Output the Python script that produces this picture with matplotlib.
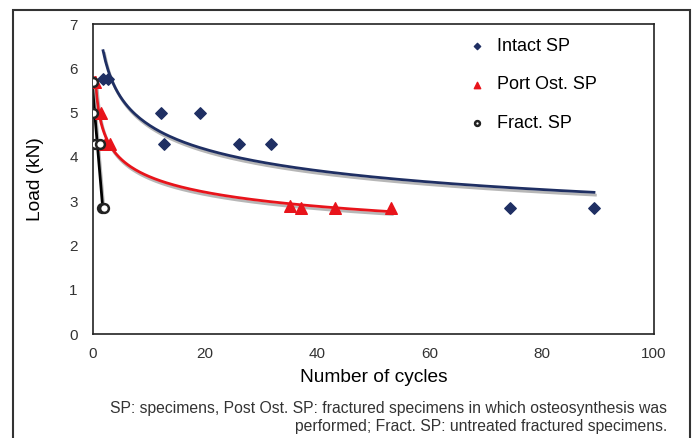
import numpy as np
import matplotlib.pyplot as plt
import matplotlib.patheffects as pe
from matplotlib.patches import Rectangle

# Data (cycles, load in kN)
intact_x = [1.8, 2.7, 12.2, 12.7, 19.1, 26.0, 31.8, 74.3, 89.3]
intact_y = [5.75, 5.75, 5.0, 4.3, 5.0, 4.3, 4.3, 2.85, 2.85]

post_x = [0.4, 1.5, 2.2, 3.0, 35.1, 37.0, 43.2, 53.1]
post_y = [5.7, 5.0, 4.3, 4.3, 2.9, 2.85, 2.85, 2.85]

fract_x = [0.0, 0.0, 0.35, 1.25, 1.6, 1.9]
fract_y = [5.7, 5.0, 4.3, 4.3, 2.85, 2.85]

navy = '#1f2f63'
red = '#e8141b'

plt.rcParams['font.family'] = ['Liberation Sans', 'DejaVu Sans']

fig = plt.figure(figsize=(6.92, 4.38), dpi=100)
ax = fig.add_axes([0.1344, 0.2374, 0.8107, 0.7078])

shadow = [pe.SimpleLineShadow(offset=(1, -2), shadow_color='#888888', alpha=0.6),
          pe.Normal()]


def power_trend(x, y, n=200):
    # Excel-style power trendline y = a * x^b
    x = np.asarray(x)
    y = np.asarray(y)
    b, lna = np.polyfit(np.log(x), np.log(y), 1)
    xs = np.linspace(x.min(), x.max(), n)
    return xs, np.exp(lna) * xs ** b


xs, ys = power_trend(intact_x, intact_y)
ax.plot(xs, ys, color=navy, lw=2, path_effects=shadow, zorder=2)

xs, ys = power_trend(post_x, post_y)
ax.plot(xs, ys, color=red, lw=2, path_effects=shadow, zorder=2)

# fractured specimens: steep near-linear drop
c = np.polyfit(fract_y, fract_x, 1)
ys = np.linspace(max(fract_y) + 0.15, min(fract_y), 50)
ax.plot(np.polyval(c, ys), ys, color='black', lw=2, path_effects=shadow, zorder=2)

ax.scatter(intact_x, intact_y, marker='D', s=34, color=navy, label='Intact SP', zorder=3)
ax.scatter(post_x, post_y, marker='^', s=70, color=red, label='Port Ost. SP', zorder=3)
ax.scatter(fract_x, fract_y, marker='o', s=40, facecolor='white', edgecolor='#222222',
           linewidths=1.8, label='Fract. SP', zorder=4)

ax.set_xlim(0, 100)
ax.set_ylim(0, 7)
ax.set_xticks(range(0, 101, 20))
ax.set_yticks(range(0, 8))
ax.tick_params(length=0, labelsize=11, labelcolor='#333333')
ax.tick_params(axis='y', pad=11)
ax.tick_params(axis='x', pad=9)
for s in ax.spines.values():
    s.set_linewidth(1.2)
    s.set_color('#222222')

ax.set_xlabel('Number of cycles', fontsize=13.8, labelpad=6)
ax.set_ylabel('Load (kN)', fontsize=13.8, labelpad=18)

leg = ax.legend(loc='upper left', bbox_to_anchor=(0.64, 1.008), frameon=False,
                fontsize=13, markerscale=0.55, handlelength=1.0, handletextpad=0.6,
                labelspacing=1.2)

fig.text(0.964, 0.057, 'SP: specimens, Post Ost. SP: fractured specimens in which osteosynthesis was',
         ha='right', fontsize=11.3, color='#333333')
fig.text(0.964, 0.016, 'performed; Fract. SP: untreated fractured specimens.',
         ha='right', fontsize=11.3, color='#333333')

# outer frame around the figure panel
fig.add_artist(Rectangle((13 / 692, -0.1), 677 / 692, 1.1 - 10 / 438,
                         transform=fig.transFigure, fill=False, lw=1.5, edgecolor='#333333'))

fig.savefig('out.png', dpi=100)
